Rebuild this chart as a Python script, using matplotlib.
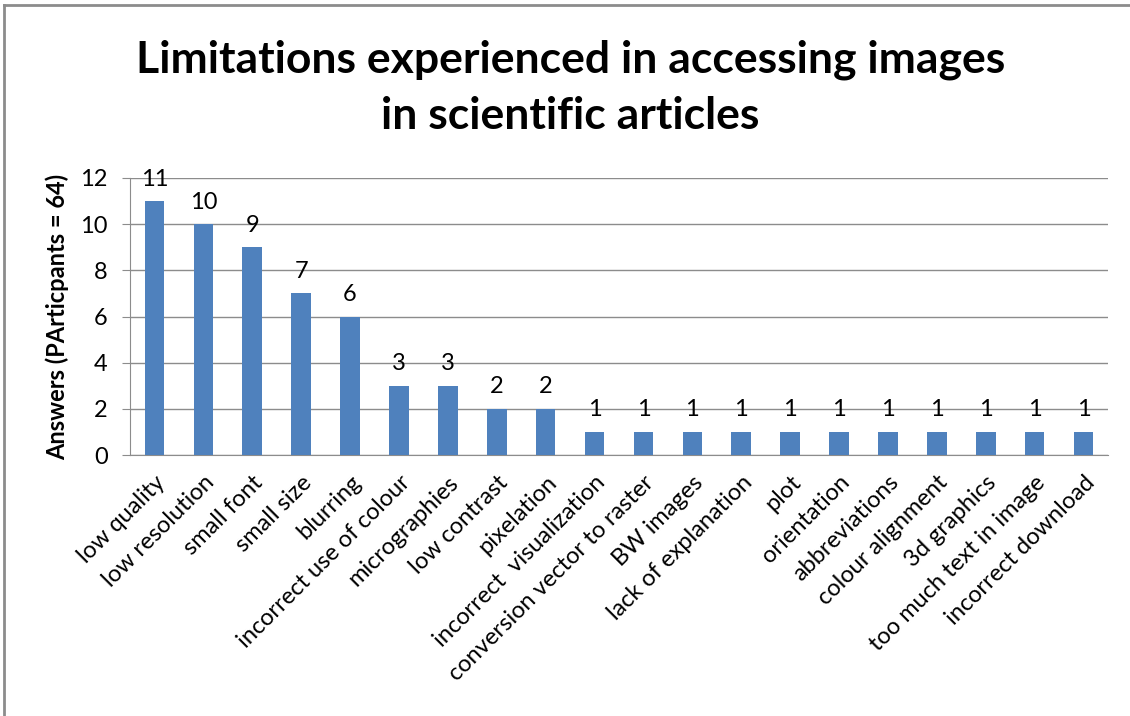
import matplotlib.pyplot as plt
from matplotlib.lines import Line2D

categories = ['low quality', 'low resolution', 'small font', 'small size', 'blurring',
              'incorrect use of colour', 'micrographies', 'low contrast', 'pixelation',
              'incorrect  visualization', 'conversion vector to raster', 'BW images',
              'lack of explanation', 'plot', 'orientation', 'abbreviations',
              'colour alignment', '3d graphics', 'too much text in image',
              'incorrect download']
answers = [11, 10, 9, 7, 6, 3, 3, 2, 2, 1, 1, 1, 1, 1, 1, 1, 1, 1, 1, 1]

plt.rcParams['font.family'] = ['Lato', 'DejaVu Sans']

fig = plt.figure(figsize=(11.3, 7.16), dpi=100)
ax = fig.add_axes([130 / 1130, 1 - 455 / 716, 978 / 1130, 277 / 716])

x = range(len(categories))
ax.bar(x, answers, width=0.4, color='#4F81BD', zorder=3)
for i, v in zip(x, answers):
    ax.text(i, v + 0.5, str(v), ha='center', va='bottom', fontsize=17, zorder=4)

ax.set_xlim(-0.5, len(categories) - 0.5)
ax.set_ylim(0, 12)
ax.set_yticks(range(0, 13, 2))
ax.grid(axis='y', color='#8c8c8c', linewidth=1, zorder=0)
ax.tick_params(axis='y', labelsize=17, length=6, color='#8c8c8c', pad=10)
ax.tick_params(axis='x', length=0, pad=12)
ax.set_xticks(list(x))
ax.set_xticklabels(categories, rotation=45, ha='right', rotation_mode='anchor', fontsize=17)
for s in ['top', 'right']:
    ax.spines[s].set_visible(False)
for s in ['left', 'bottom']:
    ax.spines[s].set_color('#8c8c8c')
ax.set_ylabel('Answers (PArticpants = 64)', fontsize=17, fontweight='bold', labelpad=8)

fig.text(0.505, 0.945, 'Limitations experienced in accessing images\nin scientific articles',
         ha='center', va='top', fontsize=32, fontweight='bold', linespacing=1.5)

# outer chart frame
fig.add_artist(Line2D([4 / 1130, 4 / 1130], [0, 1 - 5 / 716], color='#8c8c8c', lw=2,
                      transform=fig.transFigure))
fig.add_artist(Line2D([4 / 1130, 1], [1 - 5 / 716, 1 - 5 / 716], color='#8c8c8c', lw=2,
                      transform=fig.transFigure))

fig.savefig('out.png', dpi=100, facecolor='white')
